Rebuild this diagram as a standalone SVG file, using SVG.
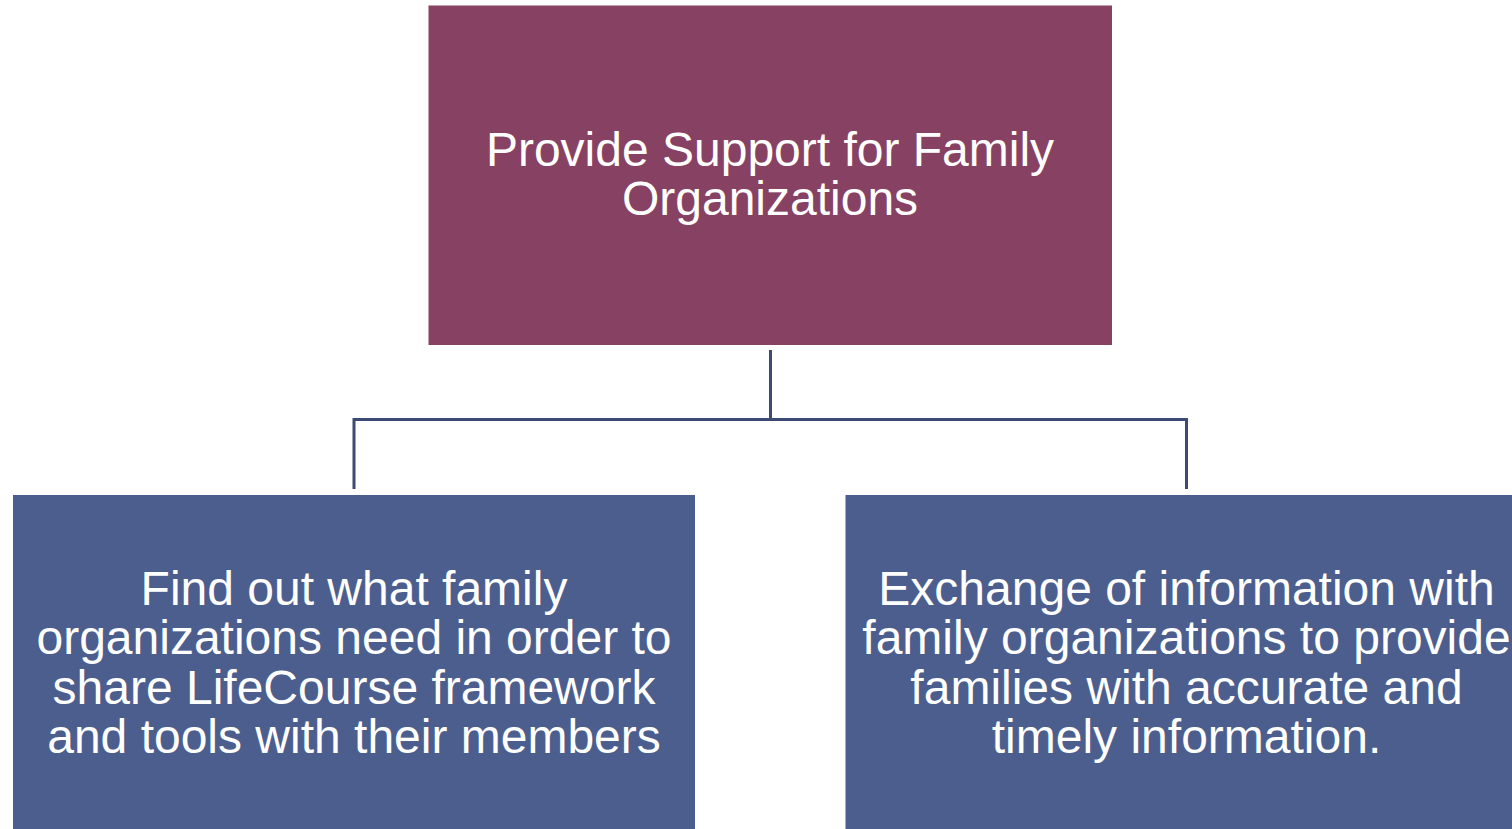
<svg xmlns="http://www.w3.org/2000/svg" width="1512" height="829" viewBox="0 0 1512 829">
<style>
.top{fill:#874163}
.box{fill:#4c5e8e}
.t{font-family:"Liberation Sans",Arial,sans-serif;font-size:48px;fill:#ffffff;text-anchor:middle}
.c{stroke:#3d4a73;stroke-width:3;fill:none}
</style>
<rect width="1512" height="829" fill="#ffffff"/>
<g id="connectors">
<path class="c" d="M770.5,350 V419.5"/>
<path class="c" d="M354,489 V419.5 H1186.5 V489"/>
</g>
<g id="node-top">
<rect class="top" x="428.5" y="5.5" width="683.5" height="339.5"/>
<text class="t" x="770" y="166">Provide Support for Family</text>
<text class="t" x="770" y="215">Organizations</text>
</g>
<g id="node-left">
<rect class="box" x="13" y="495" width="682" height="340"/>
<text class="t" x="354" y="605">Find out what family</text>
<text class="t" x="354" y="654">organizations need in order to</text>
<text class="t" x="354" y="704">share LifeCourse framework</text>
<text class="t" x="354" y="753">and tools with their members</text>
</g>
<g id="node-right">
<rect class="box" x="845.5" y="495" width="682" height="340"/>
<text class="t" x="1186.5" y="605">Exchange of information with</text>
<text class="t" x="1186.5" y="654">family organizations to provide</text>
<text class="t" x="1186.5" y="704">families with accurate and</text>
<text class="t" x="1186.5" y="753">timely information.</text>
</g>
</svg>
